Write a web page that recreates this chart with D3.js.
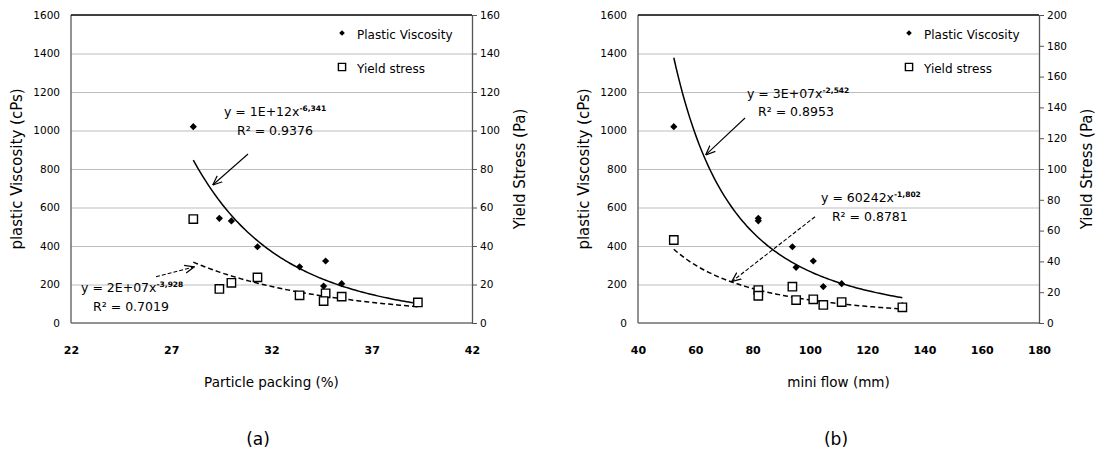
<!DOCTYPE html>
<html>
<head>
<meta charset="utf-8">
<script src="https://cdn.jsdelivr.net/npm/d3@7"></script>
<style>
  body { margin: 0; background: #fff; }
  svg text { font-family: "DejaVu Sans", sans-serif; fill: #000; }
</style>
</head>
<body>
<svg id="chart" width="1099" height="455"></svg>
<script>
// panel (a): particle packing
const packing = [28.1, 29.4, 30.0, 31.3, 33.4, 34.7, 34.6, 35.5, 39.3];
const viscosityA = [1020, 544, 530, 396, 292, 322, 192, 204, 99];
const yieldA = [54, 17.7, 20.9, 23.7, 14.4, 15.4, 11.4, 13.7, 10.7];

// panel (b): mini flow
const miniFlow = [52.5, 82, 82, 93.9, 95.2, 101.2, 104.7, 111.1, 132.3];
const viscosityB = [1020, 544, 531, 396, 289, 322, 189, 204, 90];
const yieldB = [53.9, 21.4, 17.7, 23.6, 14.9, 15.4, 11.7, 13.6, 10.2];

const trendViscA = [1.3e12, -6.341];
const trendYieldA = [1.55e7, -3.928];
const trendViscB = [3.25e7, -2.542];
const trendYieldB = [60242, -1.802];

const xTicksA = [22, 27, 32, 37, 42];
const xTicksB = [40, 60, 80, 100, 120, 140, 160, 180];
const viscTicks = [0, 200, 400, 600, 800, 1000, 1200, 1400, 1600];
const yieldTicksA = [0, 20, 40, 60, 80, 100, 120, 140, 160];
const yieldTicksB = [0, 20, 40, 60, 80, 100, 120, 140, 160, 180, 200];

const legendLabels = ["Plastic Viscosity", "Yield stress"];
const yTitleLeft = "plastic Viscosity (cPs)";
const yTitleRight = "Yield Stress (Pa)";

const svg = d3.select("#chart");
const plotTop = 15, w = 401, h = 308;
const fmt = d3.format("d");

const defs = svg.append("defs");
defs.append("marker")
  .attr("id", "arrow")
  .attr("viewBox", "0 0 10 10")
  .attr("refX", 9.5).attr("refY", 5)
  .attr("markerWidth", 10).attr("markerHeight", 10)
  .attr("markerUnits", "userSpaceOnUse")
  .attr("orient", "auto")
  .append("path")
  .attr("d", "M0,1 L9.5,5 L0,9")
  .attr("fill", "none")
  .attr("stroke", "#000")
  .attr("stroke-width", 1.2);

const diamond = d3.symbol().type(d3.symbolSquare);

function drawPanel(p) {
  const g = svg.append("g").attr("transform", `translate(${p.left},${plotTop})`);

  const x = d3.scaleLinear().domain(d3.extent(p.xTicks)).range([0, w]);
  const yV = d3.scaleLinear().domain([0, 1600]).range([h, 0]);
  const yS = d3.scaleLinear().domain([0, d3.max(p.yieldTicks)]).range([h, 0]);

  // gridlines
  g.append("g")
    .call(d3.axisLeft(yV).tickValues(viscTicks.slice(1, -1)).tickSize(-w).tickFormat(""))
    .call((s) => s.select(".domain").remove())
    .selectAll("line").attr("stroke", "#bdbdbd").attr("stroke-width", 1.2);

  // left axis
  const la = g.append("g")
    .call(d3.axisLeft(yV).tickValues(viscTicks).tickFormat(fmt).tickSize(0).tickPadding(11));
  la.select(".domain").remove();
  la.selectAll("text").style("font-size", "10.5px");

  // right axis
  const ra = g.append("g").attr("transform", `translate(${w},0)`)
    .call(d3.axisRight(yS).tickValues(p.yieldTicks).tickFormat(fmt)
      .tickSize(5).tickSizeOuter(0).tickPadding(3));
  ra.select(".domain").attr("stroke", "#555").attr("stroke-width", 1.3);
  ra.selectAll("line").attr("stroke", "#555");
  ra.selectAll("text").style("font-size", "10.5px");

  // bottom axis
  const ba = g.append("g").attr("transform", `translate(0,${h})`)
    .call(d3.axisBottom(x).tickValues(p.xTicks).tickFormat(fmt).tickSize(0).tickPadding(23));
  ba.select(".domain").remove();
  ba.selectAll("text").style("font-size", "11px").style("font-weight", "bold");

  // frame: left / bottom grey, top black
  g.append("line").attr("x1", 0).attr("x2", 0).attr("y1", 0).attr("y2", h)
    .attr("stroke", "#6e6e6e").attr("stroke-width", 1.5);
  g.append("line").attr("x1", 0).attr("x2", w).attr("y1", h).attr("y2", h)
    .attr("stroke", "#6e6e6e").attr("stroke-width", 1.5);
  g.append("line").attr("x1", 0).attr("x2", w).attr("y1", 0).attr("y2", 0)
    .attr("stroke", "#000").attr("stroke-width", 1.5);

  // trendlines
  const xs = d3.extent(p.xs);
  const samples = d3.range(0, 101).map((i) => xs[0] + (xs[1] - xs[0]) * i / 100);
  const curve = (tr, yScale) => d3.line()
    .x((d) => x(d))
    .y((d) => yScale(tr[0] * Math.pow(d, tr[1])));

  g.append("path").datum(samples)
    .attr("d", curve(p.trendVisc, yV))
    .attr("fill", "none").attr("stroke", "#000").attr("stroke-width", 1.5);
  g.append("path").datum(samples)
    .attr("d", curve(p.trendYield, yS))
    .attr("fill", "none").attr("stroke", "#000").attr("stroke-width", 1.5)
    .attr("stroke-dasharray", "5,3");

  // points
  g.selectAll(".visc").data(p.xs).join("path")
    .attr("class", "visc")
    .attr("d", diamond.size(26))
    .attr("transform", (d, i) => `translate(${x(d)},${yV(p.visc[i])}) rotate(45)`)
    .attr("fill", "#000");
  g.selectAll(".yield").data(p.xs).join("path")
    .attr("class", "yield")
    .attr("d", d3.symbol().type(d3.symbolSquare).size(70)())
    .attr("transform", (d, i) => `translate(${x(d)},${yS(p.yield[i])})`)
    .attr("fill", "#fff").attr("stroke", "#000").attr("stroke-width", 1.4);

  // equations + arrows (anchored in data units)
  p.notes.forEach((n) => {
    const t = g.append("text")
      .attr("x", x(n.at[0])).attr("y", yV(n.at[1]))
      .style("font-size", "12.5px");
    t.append("tspan").text(n.eq);
    t.append("tspan").attr("dy", -5).style("font-size", "7.5px")
      .style("font-weight", "bold").text(n.exp);
    g.append("text")
      .attr("x", x(n.r2at[0])).attr("y", yV(n.r2at[1]))
      .style("font-size", "12.5px").text(n.r2);
    g.append("line")
      .attr("x1", x(n.from[0])).attr("y1", yV(n.from[1]))
      .attr("x2", x(n.to[0])).attr("y2", yV(n.to[1]))
      .attr("stroke", "#000").attr("stroke-width", 1.1)
      .attr("stroke-dasharray", n.dashed ? "4,2" : null)
      .attr("marker-end", "url(#arrow)");
  });

  // legend
  const lg = g.append("g").attr("transform", `translate(${271},0)`);
  lg.append("path").attr("d", diamond.size(16))
    .attr("transform", "translate(0,18) rotate(45)").attr("fill", "#000");
  lg.append("path").attr("d", d3.symbol().type(d3.symbolSquare).size(52)())
    .attr("transform", "translate(0,52)")
    .attr("fill", "#fff").attr("stroke", "#000").attr("stroke-width", 1.4);
  lg.selectAll(".lt").data(legendLabels).join("text")
    .attr("x", 15).attr("y", (d, i) => 20 + i * 34).attr("dy", "0.35em")
    .style("font-size", "12px").text((d) => d);

  // axis titles
  g.append("text")
    .attr("transform", `translate(${-54},${h / 2}) rotate(-90)`)
    .attr("text-anchor", "middle").attr("dy", "0.35em")
    .style("font-size", "15px").text(yTitleLeft);
  g.append("text")
    .attr("transform", `translate(${w + 48},${h / 2}) rotate(-90)`)
    .attr("text-anchor", "middle").attr("dy", "0.35em")
    .style("font-size", "15px").text(yTitleRight);
  g.append("text")
    .attr("x", w / 2).attr("y", 367).attr("dy", "0.35em")
    .attr("text-anchor", "middle").style("font-size", "13.5px").text(p.xTitle);
  g.append("text")
    .attr("x", p.captionX).attr("y", 424).attr("dy", "0.35em")
    .attr("text-anchor", "middle").style("font-size", "17px").text(p.caption);
}

drawPanel({
  left: 71, xTicks: xTicksA, yieldTicks: yieldTicksA,
  xs: packing, visc: viscosityA, yield: yieldA,
  trendVisc: trendViscA, trendYield: trendYieldA,
  xTitle: "Particle packing (%)", caption: "(a)", captionX: 187,
  notes: [
    { eq: "y = 1E+12x", exp: "-6,341", r2: "R² = 0.9376",
      at: [29.63, 1075], r2at: [30.28, 977], from: [30.83, 878], to: [29.07, 717] },
    { eq: "y = 2E+07x", exp: "-3,928", r2: "R² = 0.7019", dashed: true,
      at: [22.5, 161], r2at: [23.1, 62], from: [26.24, 240], to: [28.15, 292] }
  ]
});

drawPanel({
  left: 638, xTicks: xTicksB, yieldTicks: yieldTicksB,
  xs: miniFlow, visc: viscosityB, yield: yieldB,
  trendVisc: trendViscB, trendYield: trendYieldB,
  xTitle: "mini flow (mm)", caption: "(b)", captionX: 198,
  notes: [
    { eq: "y = 3E+07x", exp: "-2,542", r2: "R² = 0.8953",
      at: [78.06, 1169], r2at: [81.9, 1075], from: [77.36, 1065], to: [63.64, 873] },
    { eq: "y = 60242x", exp: "-1,802", r2: "R² = 0.8781", dashed: true,
      at: [103.9, 629], r2at: [107.7, 530], from: [101.8, 552], to: [72.72, 215] }
  ]
});
</script>
</body>
</html>
